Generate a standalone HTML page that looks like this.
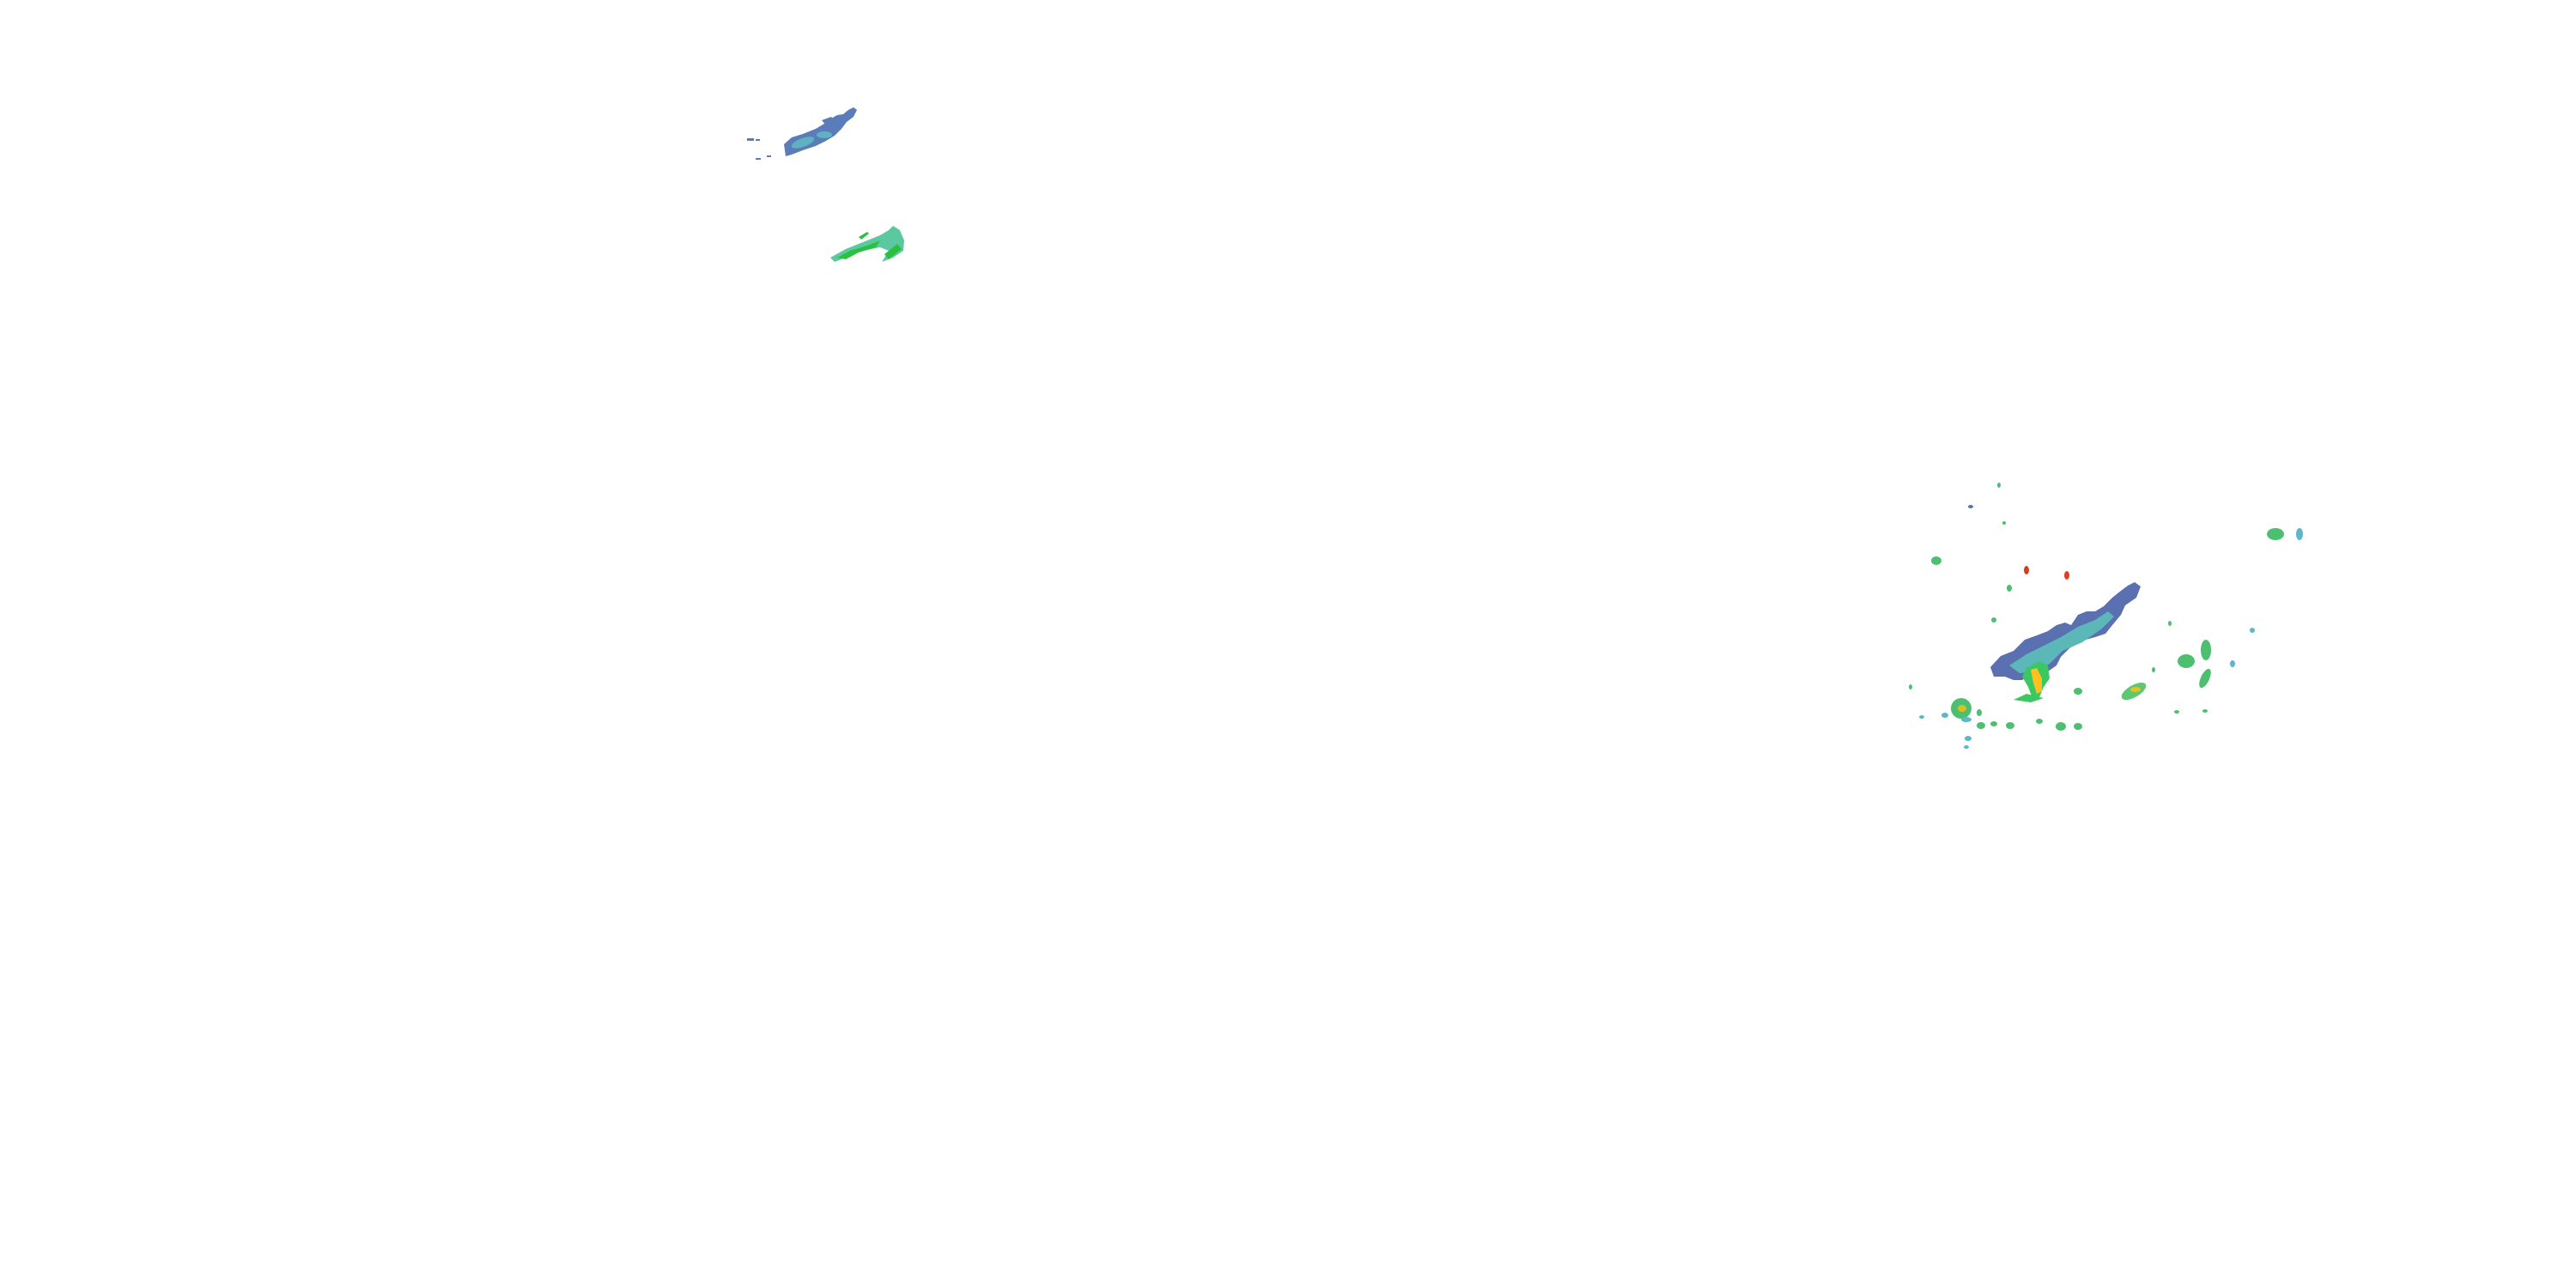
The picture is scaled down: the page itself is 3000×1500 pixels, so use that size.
<!DOCTYPE html>
<html><head><meta charset="utf-8"><style>html,body{margin:0;padding:0;background:#fff}svg{display:block}</style></head>
<body>
<svg width="3000" height="1500" viewBox="0 0 3000 1500" xmlns="http://www.w3.org/2000/svg">
<rect width="3000" height="1500" fill="#fff"/>
<g fill="#5a7cb8">
<polygon points="913,168 922,160 935,156 950,150 960,144 968,138 975,134 982,133 988,128 994,125 998,128 994,136 986,142 980,150 972,158 962,164 950,170 935,175 922,180 915,182"/>
<polygon points="957,140 968,136 972,140 962,146"/>
<rect x="870" y="161" width="8" height="3"/><rect x="880" y="162" width="5" height="2"/>
<rect x="880" y="184" width="6" height="2"/><rect x="893" y="181" width="5" height="2"/>
</g>
<g fill="#5fb0c0"><ellipse cx="935" cy="166" rx="14" ry="5" transform="rotate(-20 935 166)"/><ellipse cx="960" cy="157" rx="9" ry="4"/></g>
<polygon points="967,300 985,290 1000,284 1015,278 1025,274 1035,268 1040,263 1048,268 1053,280 1052,292 1040,300 1027,305 1035,292 1025,288 1005,292 985,300 972,305" fill="#5cc8a0"/>
<polygon points="975,300 990,292 1010,286 1025,280 1020,288 1000,294 985,302" fill="#2cc040"/>
<polygon points="1000,276 1010,270 1012,272 1003,279" fill="#2cc040"/>
<polygon points="1030,296 1045,284 1050,290 1035,302" fill="#2cc040"/>
<polygon points="2318,777 2330,764 2345,758 2358,745 2372,740 2385,735 2395,728 2405,725 2412,728 2420,716 2430,712 2440,712 2450,706 2460,696 2470,688 2478,682 2486,678 2493,683 2488,696 2475,705 2470,716 2460,728 2452,738 2440,742 2425,746 2410,755 2400,765 2395,775 2385,782 2370,782 2355,792 2345,792 2335,788 2322,788" fill="#5a70b0"/>
<polygon points="2340,775 2360,762 2380,752 2400,742 2420,730 2440,722 2455,712 2462,718 2448,732 2425,748 2402,758 2388,772 2372,782 2352,784" fill="#5cb8b8"/>
<polygon points="2360,778 2375,770 2385,775 2387,790 2380,800 2375,812 2368,816 2362,800 2355,788" fill="#3cc860"/>
<polygon points="2365,780 2372,778 2378,790 2378,805 2372,808 2368,795" fill="#ffc020"/>
<polygon points="2380,813 2360,808 2345,815 2365,818" fill="#3cc860"/>
<ellipse cx="2284" cy="825" rx="12" ry="12" fill="#4cc070"/>
<ellipse cx="2285" cy="825" rx="5" ry="4" fill="#d8c020"/>
<ellipse cx="2485" cy="805" rx="16" ry="7" transform="rotate(-30 2485 805)" fill="#5cc870"/>
<ellipse cx="2487" cy="803" rx="6" ry="3" fill="#e8c020"/>
<ellipse cx="2546" cy="770" rx="10" ry="8" fill="#4cc070"/>
<ellipse cx="2569" cy="757" rx="6" ry="12" fill="#4cc070"/>
<ellipse cx="2568" cy="790" rx="5" ry="12" transform="rotate(25 2568 790)" fill="#4cc070"/>
<ellipse cx="2650" cy="622" rx="10" ry="7" fill="#4cc070"/>
<ellipse cx="2678" cy="622" rx="4" ry="7" fill="#5cb8c8"/>
<ellipse cx="2255" cy="653" rx="6" ry="5" fill="#4cc070"/>
<ellipse cx="2360" cy="664" rx="3" ry="5" fill="#d04020"/>
<ellipse cx="2407" cy="670" rx="3" ry="5" fill="#e04020"/>
<ellipse cx="2400" cy="846" rx="6" ry="5" fill="#4cc070"/>
<ellipse cx="2420" cy="846" rx="5" ry="4" fill="#4cc070"/>
<ellipse cx="2341" cy="845" rx="5" ry="4" fill="#4cc070"/>
<ellipse cx="2307" cy="845" rx="5" ry="4" fill="#4cc070"/>
<ellipse cx="2420" cy="805" rx="5" ry="4" fill="#4cc070"/>
<ellipse cx="2322" cy="843" rx="4" ry="3" fill="#4cc070"/>
<ellipse cx="2305" cy="830" rx="3" ry="4" fill="#4cc070"/>
<ellipse cx="2375" cy="840" rx="4" ry="3" fill="#4cc070"/>
<ellipse cx="2292" cy="860" rx="4" ry="3" fill="#5cb8c8"/>
<ellipse cx="2340" cy="685" rx="3" ry="4" fill="#4cc070"/>
<ellipse cx="2322" cy="722" rx="3" ry="3" fill="#4cc070"/>
<ellipse cx="2290" cy="838" rx="6" ry="3" fill="#5cb8c8"/>
<ellipse cx="2265" cy="833" rx="4" ry="3" fill="#5cb8c8"/>
<ellipse cx="2238" cy="835" rx="3" ry="2" fill="#5cb8c8"/>
<ellipse cx="2290" cy="870" rx="3" ry="2" fill="#5cb8c8"/>
<ellipse cx="2600" cy="773" rx="3" ry="4" fill="#5cb8c8"/>
<ellipse cx="2623" cy="734" rx="3" ry="3" fill="#5cb8c8"/>
<ellipse cx="2527" cy="726" rx="2" ry="3" fill="#4cc070"/>
<ellipse cx="2508" cy="780" rx="2" ry="3" fill="#4cc070"/>
<ellipse cx="2535" cy="829" rx="3" ry="2" fill="#4cc070"/>
<ellipse cx="2568" cy="828" rx="3" ry="2" fill="#4cc070"/>
<ellipse cx="2334" cy="609" rx="2" ry="2" fill="#4cc070"/>
<ellipse cx="2225" cy="800" rx="2" ry="3" fill="#4cc070"/>
<ellipse cx="2295" cy="590" rx="3" ry="2" fill="#5a70b0"/>
<ellipse cx="2328" cy="565" rx="2" ry="3" fill="#4cc070"/>
</svg>
</body></html>
